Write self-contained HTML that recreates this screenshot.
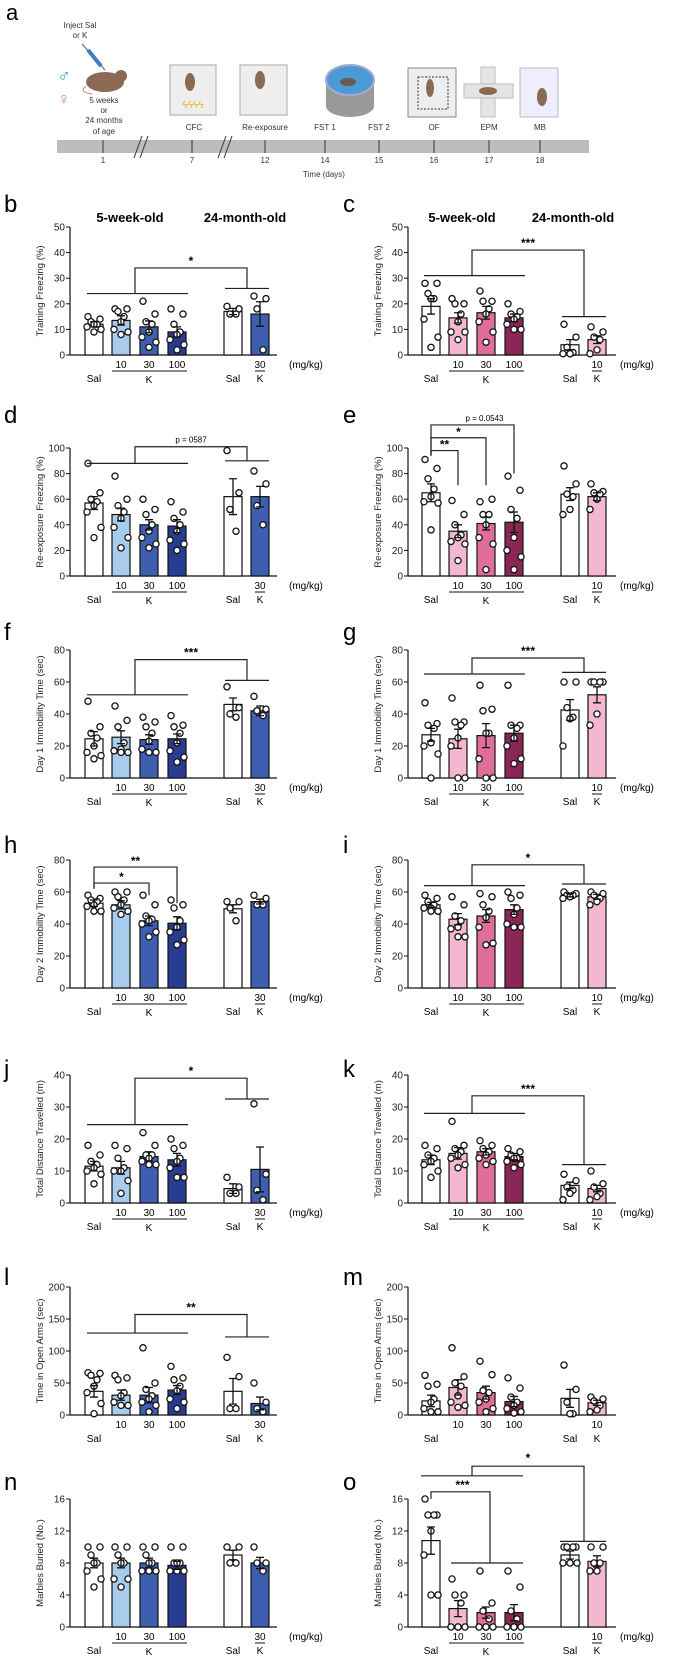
<!DOCTYPE html>
<html><head><meta charset="utf-8"><style>
html,body{margin:0;padding:0;background:#fff;}
svg{display:block;font-family:"Liberation Sans",Arial,sans-serif;}
</style></head><body>
<svg id="fig" width="681" height="1665" viewBox="0 0 681 1665" xmlns="http://www.w3.org/2000/svg">
<g id="panel-a">
<text x="6" y="20" font-size="22">a</text>
<text x="80" y="28" font-size="8" text-anchor="middle" fill="#333">Inject Sal</text>
<text x="80" y="38" font-size="8" text-anchor="middle" fill="#333">or K</text>
<g><line x1="82" y1="44" x2="105" y2="70" stroke="#888" stroke-width="1.5"/><line x1="88" y1="50" x2="101" y2="66" stroke="#3a7fc4" stroke-width="4"/></g>
<text x="64" y="82" font-size="18" fill="#3b9ad1" text-anchor="middle">♂</text>
<text x="64" y="105" font-size="18" fill="#e07ca6" text-anchor="middle">♀</text>
<g><ellipse cx="105" cy="82" rx="19" ry="10" fill="#8a6a52"/><circle cx="121" cy="76" r="6" fill="#8a6a52"/><path d="M86 86 Q78 92 92 94" stroke="#b08878" fill="none"/></g>
<g font-size="8" text-anchor="middle" fill="#333"><text x="104" y="103">5 weeks</text><text x="104" y="113">or</text><text x="104" y="123">24 months</text><text x="104" y="134">of age</text></g>
<rect x="170" y="65" width="46" height="50" fill="#eee" stroke="#aaa"/>
<ellipse cx="190" cy="82" rx="5" ry="9" fill="#8a6a52"/><text x="193" y="108" font-size="10" fill="#e8b020" text-anchor="middle">ϟϟϟϟ</text>
<rect x="240" y="65" width="47" height="50" fill="#eee" stroke="#aaa"/>
<ellipse cx="260" cy="80" rx="5" ry="9" fill="#8a6a52"/>
<g><rect x="326" y="78" width="48" height="28" fill="#999"/><ellipse cx="350" cy="106" rx="24" ry="11" fill="#999"/><ellipse cx="350" cy="80" rx="24" ry="15" fill="#4b9ad8" stroke="#aac" stroke-width="2"/><ellipse cx="348" cy="82" rx="8" ry="4" fill="#6a5a50"/></g>
<rect x="408" y="68" width="48" height="49" fill="#eee" stroke="#888"/>
<rect x="418" y="77" width="30" height="32" fill="none" stroke="#333" stroke-dasharray="2,1.5"/><ellipse cx="430" cy="88" rx="4" ry="9" fill="#8a6a52"/>
<g><rect x="481" y="67" width="14" height="50" fill="#e4e4e4" stroke="#bbb"/><rect x="464" y="84" width="49" height="14" fill="#e4e4e4" stroke="#bbb"/><ellipse cx="488" cy="91" rx="9" ry="4" fill="#8a6a52"/></g>
<g><rect x="520" y="68" width="38" height="49" fill="#eef" stroke="#bbb"/><ellipse cx="542" cy="97" rx="5" ry="9" fill="#8a6a52"/></g>
<g font-size="8" text-anchor="middle" fill="#333"><text x="194" y="130">CFC</text><text x="265" y="130">Re-exposure</text><text x="325" y="130">FST 1</text><text x="379" y="130">FST 2</text><text x="434" y="130">OF</text><text x="489" y="130">EPM</text><text x="540" y="130">MB</text></g>
<rect x="57" y="140" width="532" height="13" fill="#bdbdbd"/>
<g stroke="#333" stroke-width="1"><line x1="134" y1="158" x2="142" y2="136"/><line x1="140" y1="158" x2="148" y2="136"/><line x1="218" y1="158" x2="226" y2="136"/><line x1="224" y1="158" x2="232" y2="136"/></g>
<g id="tl-ticks"></g>
<text x="324" y="177" font-size="8" text-anchor="middle" fill="#333">Time (days)</text>
</g>
<g id="charts"></g>
</svg>
<script>
// timeline
const tlDays=["1","7","12","14","15","16","17","18"];
const tlX=[103,192,265,325,379,434,489,540];
// panel data (means, SEM, individual points)
const bMeans=[12,13.5,11,9,17,16];const bSem=[1,1.8,2.3,2,1.2,4.8];
const bPts=[[15,14,13,12,12,11,10,9],[18,18,17,15,13,10,9,8],[21,16,13,12,9,7,5,3],[18,16,12,9,8,6,4,2],[19,18,16,16],[23,22,18,2]];
const cMeans=[19,14.5,16.5,14.5,4,6];const cSem=[3,2,2.5,1.5,2,1.5];
const cPts=[[28,28,24,22,22,14,7,3],[22,20,20,16,13,9,9,6],[25,21,21,18,16,13,9,5],[20,17,16,15,14,12,10,10],[12,7,3,1,0.5,0.5],[11,9,7,6,2,0.5]];
const dMeans=[57,48,40,39,62,62];const dSem=[5,5,4,5,14,8];
const dPts=[[88,65,60,58,55,50,38,30],[78,60,55,50,45,38,30,22],[60,52,48,40,35,30,25,22],[58,50,45,40,35,28,25,20],[98,65,52,35],[82,72,55,40]];
const eMeans=[65,35,41,42,64,62];const eSem=[7,5,5,8,5,3];
const ePts=[[91,84,76,68,62,58,57,36],[59,48,40,32,30,27,25,12],[58,60,48,48,40,30,25,5],[78,67,52,45,30,20,15,5],[86,72,64,62,52,48],[72,66,65,64,60,52]];
const fMeans=[24.5,25.5,24,24.5,46,42];const fSem=[4.5,4,3,3,4,3];
const fPts=[[48,32,28,25,20,16,14,12],[45,36,32,22,18,17,16,16],[38,35,32,28,23,18,16,16],[39,33,32,28,22,17,13,10],[57,44,40,38],[51,43,42,39]];
const gMeans=[27,24.5,26.5,28,42.5,52];const gSem=[4,6,7.5,5,6.5,5];
const gPts=[[47,34,33,31,22,20,15,0],[50,35,35,33,25,20,0,0],[58,43,42,28,28,12,0,0],[58,33,33,31,25,20,12,9],[60,60,44,38,37,20],[60,60,60,60,40,33]];
const hMeans=[53,52,42,40.5,49.5,54];const hSem=[2,2.5,3,4,2.5,1.5];
const hPts=[[58,56,55,54,52,51,48,48],[60,60,57,55,52,50,48,46],[58,52,45,43,42,40,35,32],[55,52,50,42,38,35,30,27],[54,54,50,42],[58,56,52,52]];
const iMeans=[52,43,45,49,58,57];const iSem=[1.5,3.5,4,3,1,1.5];
const iPts=[[58,56,54,52,50,50,48,48],[57,52,45,42,38,37,32,32],[59,57,52,48,44,38,28,27],[60,58,56,50,46,40,38,38],[60,59,58,58,57,56],[60,59,58,56,54,52]];
const jMeans=[11.5,11,14.5,13.5,4.5,10.5];const jSem=[1.5,2,1.5,2,1.5,7];
const jPts=[[18,15,13,12,11,10,9,6],[18,17,14,11,10,10,7,3],[22,18,15,15,14,13,12,12],[20,18,17,14,13,11,8,8],[8,5,3,3],[31,9,4,1]];
const kMeans=[13.5,15.5,16,14.5,5.5,4.5];const kSem=[1.5,1.8,1,1,1,1];
const kPts=[[18,17,15,14,13,12,10,8],[25.5,18,17,16,15,14,12,11],[19.5,18,17,16,15,14,13,12],[17,16,15,14,14,13,12,11],[9,7,5,4,3,1],[10,6,5,3,2,1]];
const lMeans=[37,31,31,39,37,18];const lSem=[9,8,12,7,20,10];
const lPts=[[66,65,62,55,45,35,18,2],[62,58,55,35,30,20,15,15],[105,50,40,30,25,20,15,5],[76,58,55,45,38,25,20,10],[90,60,10,10],[50,20,10,5]];
const mMeans=[22,43,35,21,26,19];const mSem=[9,12,10,8,14,4];
const mPts=[[62,48,45,25,20,10,5,5],[105,60,50,45,30,20,15,12],[84,63,38,35,25,20,10,5],[58,42,28,20,15,10,5,3],[78,40,20,2,2],[28,25,22,15,8,5]];
const nMeans=[8,8,8,7.7,9,8];const nSem=[0.6,0.6,0.6,0.5,0.6,0.7];
const nPts=[[10,10,9,8,8,7,6,5],[10,10,9,8,8,6,6,5],[10,10,9,8,8,7,7,7],[10,10,8,8,8,7,7,7],[10,10,8,8],[10,8,8,7]];
const oMeans=[10.8,2.3,1.8,1.8,9,8.2];const oSem=[1.7,1,0.7,1,0.5,0.7];
const oPts=[[16,14,14,14,12,9,4,4],[6,4,4,3,0,0,0,0],[7,3,2,1,0,0,0,0],[7,5,2,1,0,0,0,0],[10,10,10,10,8,8,8],[10,10,8,8,7,7]];
const doseLabels=["10","30","100"];

const NS="http://www.w3.org/2000/svg";
function mk(tag,attrs,parent){const e=document.createElementNS(NS,tag);for(const k in attrs)e.setAttribute(k,attrs[k]);if(parent)parent.appendChild(e);return e;}
const tlg=document.getElementById('tl-ticks');
tlDays.forEach((d,i)=>{
  const l=mk('line',{x1:tlX[i],y1:140,x2:tlX[i],y2:153,stroke:'#333'},tlg);
  
  
  const t=mk('text',{x:tlX[i],y:163,'font-size':8,'text-anchor':'middle',fill:'#333'},tlg);t.textContent=d;
  
  
});

const blue=['#ffffff','#a8cceb','#3e5fb0','#283d91','#ffffff','#3e5fb0'];
const pink=['#ffffff','#f3b8d0','#e06e98','#8a2757','#ffffff','#f3b8d0'];
const CL=[94,121,149,177,233,260];
const H=128;
const panels=[
 {id:'b',side:0,zero:355,max:50,ticks:[0,10,20,30,40,50],title:'Training Freezing (%)',m:bMeans,s:bSem,p:bPts,aged:'30',br:{t:'grp',a:24,b:26,top:34,lab:'*'},ly:212,head:true},
 {id:'c',side:1,zero:355,max:50,ticks:[0,10,20,30,40,50],title:'Training Freezing (%)',m:cMeans,s:cSem,p:cPts,aged:'10',br:{t:'grp',a:31,b:15,top:41,lab:'***'},ly:212,head:true},
 {id:'d',side:0,zero:576,max:100,ticks:[0,20,40,60,80,100],title:'Re-exposure Freezing (%)',m:dMeans,s:dSem,p:dPts,aged:'30',br:{t:'grp',a:88,b:90,top:101,lab:'p = 0587',small:true},ly:423},
 {id:'e',side:1,zero:576,max:100,ticks:[0,20,40,60,80,100],title:'Re-exposure Freezing (%)',m:eMeans,s:eSem,p:ePts,aged:'10',br:{t:'pair',lv:[[1,98,71,'**'],[2,108,71,'*'],[3,118,80,'p = 0.0543']],base:94},ly:423},
 {id:'f',side:0,zero:778,max:80,ticks:[0,20,40,60,80],title:'Day 1 Immobility Time (sec)',m:fMeans,s:fSem,p:fPts,aged:'30',br:{t:'grp',a:52,b:61,top:74,lab:'***'},ly:640},
 {id:'g',side:1,zero:778,max:80,ticks:[0,20,40,60,80],title:'Day 1 Immobility Time (sec)',m:gMeans,s:gSem,p:gPts,aged:'10',br:{t:'grp',a:65,b:66,top:75,lab:'***'},ly:640},
 {id:'h',side:0,zero:988,max:80,ticks:[0,20,40,60,80],title:'Day 2 Immobility Time (sec)',m:hMeans,s:hSem,p:hPts,aged:'30',br:{t:'pair',lv:[[2,65.6,58,'*'],[3,75.6,53,'**']],base:62},ly:853},
 {id:'i',side:1,zero:988,max:80,ticks:[0,20,40,60,80],title:'Day 2 Immobility Time (sec)',m:iMeans,s:iSem,p:iPts,aged:'10',br:{t:'grp',a:64,b:65,top:77,lab:'*'},ly:853},
 {id:'j',side:0,zero:1203,max:40,ticks:[0,10,20,30,40],title:'Total Distance Travelled (m)',m:jMeans,s:jSem,p:jPts,aged:'30',br:{t:'grp',a:24.5,b:32.5,top:39,lab:'*'},ly:1077},
 {id:'k',side:1,zero:1203,max:40,ticks:[0,10,20,30,40],title:'Total Distance Travelled (m)',m:kMeans,s:kSem,p:kPts,aged:'10',br:{t:'grp',a:28,b:12,top:33.5,lab:'***'},ly:1077},
 {id:'l',side:0,zero:1415,max:200,ticks:[0,50,100,150,200],title:'Time in Open Arms (sec)',m:lMeans,s:lSem,p:lPts,aged:'30',plain:true,br:{t:'grp',a:128,b:122,top:157,lab:'**'},ly:1285},
 {id:'m',side:1,zero:1415,max:200,ticks:[0,50,100,150,200],title:'Time in Open Arms (sec)',m:mMeans,s:mSem,p:mPts,aged:'10',plain:true,br:null,ly:1285},
 {id:'n',side:0,zero:1627,max:16,ticks:[0,4,8,12,16],title:'Marbles Buried (No.)',m:nMeans,s:nSem,p:nPts,aged:'30',br:null,ly:1490},
 {id:'o',side:1,zero:1627,max:16,ticks:[0,4,8,12,16],title:'Marbles Buried (No.)',m:oMeans,s:oSem,p:oPts,aged:'10',br:{t:'o'},ly:1490}
];
const jit=[-6,6,-3,3,0,-7,7,0];
const root=document.getElementById('charts');
panels.forEach(P=>{
  const off=P.side?337:0, ax=P.side?408:70, axEnd=P.side?616:277;
  const cols=P.side?pink:blue;
  const X=i=>CL[i]+off;
  const Y=v=>P.zero-v/P.max*H;
  const g=mk('g',{},root);
  
  
  const L=mk('text',{x:P.side?343:4,y:P.ly,'font-size':24},g);L.textContent=P.id;
  
  
  if(P.head){
    const t1=mk('text',{x:P.side?462:130,y:P.ly+10,'font-size':13,'font-weight':'bold','text-anchor':'middle'},g);t1.textContent='5-week-old';
    
    
    const t2=mk('text',{x:P.side?573:245,y:P.ly+10,'font-size':13,'font-weight':'bold','text-anchor':'middle'},g);t2.textContent='24-month-old';
    
    
  }
  // axes
  const ya=mk('line',{x1:ax,y1:Y(P.max),x2:ax,y2:P.zero,stroke:'#111','stroke-width':1.2},g);
  
  
  const xa=mk('line',{x1:ax,y1:P.zero,x2:axEnd,y2:P.zero,stroke:'#111','stroke-width':1.2},g);
  
  
  P.ticks.forEach(tv=>{
    mk('line',{x1:ax-4,y1:Y(tv),x2:ax,y2:Y(tv),stroke:'#111'},g);
    const t=mk('text',{x:ax-5,y:Y(tv)+3.5,'font-size':10,'text-anchor':'end',fill:'#222'},g);t.textContent=tv;
    
    
  });
  const yt=mk('text',{x:0,y:0,'font-size':9.5,'text-anchor':'middle',fill:'#222',transform:`translate(${ax-27},${P.zero-H/2}) rotate(-90)`},g);yt.textContent=P.title;
  
  
  // bars
  P.m.forEach((mv,i)=>{
    const r=mk('rect',{x:X(i)-9,y:Y(mv),width:18,height:P.zero-Y(mv),fill:cols[i],stroke:'#111','stroke-width':1.2},g);
    
    
  });
  P.p.forEach((arr,i)=>arr.forEach((v,k)=>{
    const c=mk('circle',{cx:X(i)+jit[k%8],cy:Y(v),r:3.1,fill:'#fff',stroke:'#111','stroke-width':1.3},g);
    
    
  }));
  P.m.forEach((mv,i)=>{
    const e=mk('path',{d:`M${X(i)} ${Y(mv-P.s[i])}V${Y(mv+P.s[i])}M${X(i)-4} ${Y(mv+P.s[i])}h8M${X(i)-4} ${Y(mv-P.s[i])}h8`,stroke:'#111','stroke-width':1.3,fill:'none'},g);
    
    
  });
  // x labels
  const z=P.zero;
  doseLabels.forEach((d,k)=>{
    const t=mk('text',{x:X(k+1),y:z+13,'font-size':10,'text-anchor':'middle'},g);t.textContent=d;
    
    
  });
  const ad=mk('text',{x:X(5),y:z+13,'font-size':10,'text-anchor':'middle'},g);ad.textContent=P.aged;
  
  
  const s1=mk('text',{x:X(0),y:z+27,'font-size':10,'text-anchor':'middle'},g);s1.textContent='Sal';
  
  
  const s2=mk('text',{x:X(4),y:z+27,'font-size':10,'text-anchor':'middle'},g);s2.textContent='Sal';
  
  
  const k2=mk('text',{x:X(5),y:z+27,'font-size':10,'text-anchor':'middle'},g);k2.textContent='K';
  
  
  if(!P.plain){
    const mg=mk('text',{x:P.side?620:289,y:z+13,'font-size':10},g);mg.textContent='(mg/kg)';
    
    
    mk('line',{x1:X(1)-9,y1:z+16,x2:X(3)+10,y2:z+16,stroke:'#111'},g);
    mk('line',{x1:X(5)-5,y1:z+16,x2:X(5)+5,y2:z+16,stroke:'#111'},g);
    const kk=mk('text',{x:X(2),y:z+28,'font-size':10,'text-anchor':'middle'},g);kk.textContent='K';
    
    
  }
  // brackets
  const B=P.br; if(!B) return;
  const st={stroke:'#222','stroke-width':1.2,fill:'none'};
  if(B.t==='grp'){
    const mx=X(1)+14, ax2=X(4)+14;
    const pth=mk('path',Object.assign({d:`M${X(0)-7} ${Y(B.a)}H${X(3)+11}M${X(4)-8} ${Y(B.b)}H${X(5)+9}M${mx} ${Y(B.a)}V${Y(B.top)}H${ax2}V${Y(B.b)}`},st),g);
    
    
    const t=mk('text',{x:(mx+ax2)/2,y:Y(B.top)-(B.small?4:3),'font-size':B.small?8:12,'font-weight':B.small?'normal':'bold','text-anchor':'middle'},g);t.textContent=B.lab;
    
    
  } else if(B.t==='pair'){
    B.lv.forEach(([i,top,low,lab])=>{
      const pth=mk('path',Object.assign({d:`M${X(0)} ${Y(B.base)}V${Y(top)}H${X(i)}V${Y(low)}`},st),g);
      
      
      const small=lab.length>3;
      const t=mk('text',{x:(X(0)+X(i))/2+(small?12:0),y:Y(top)-(small?4:2),'font-size':small?8:12,'font-weight':small?'normal':'bold','text-anchor':'middle'},g);t.textContent=lab;
      
      
    });
  } else if(B.t==='o'){
    const p1=mk('path',Object.assign({d:`M${X(0)} ${Y(16)}V${Y(16.9)}H${X(2)+4}V${Y(8)}M${X(1)-7} ${Y(8)}H${X(3)+9}`},st),g);
    
    
    const t1=mk('text',{x:(X(0)+X(2))/2+4,y:Y(16.9)-3,'font-size':12,'font-weight':'bold','text-anchor':'middle'},g);t1.textContent='***';
    
    
    const p2=mk('path',Object.assign({d:`M${X(0)-10} ${Y(18.9)}H${X(3)+9}M${X(1)+14} ${Y(18.9)}V${Y(20.1)}H${X(4)+14}V${Y(10.7)}M${X(4)-10} ${Y(10.7)}H${X(5)+9}`},st),g);
    
    
    const t2=mk('text',{x:(X(1)+X(4))/2+14,y:Y(20.1)-4,'font-size':12,'font-weight':'bold','text-anchor':'middle'},g);t2.textContent='*';
    
    
  }
});
</script>
</body></html>
